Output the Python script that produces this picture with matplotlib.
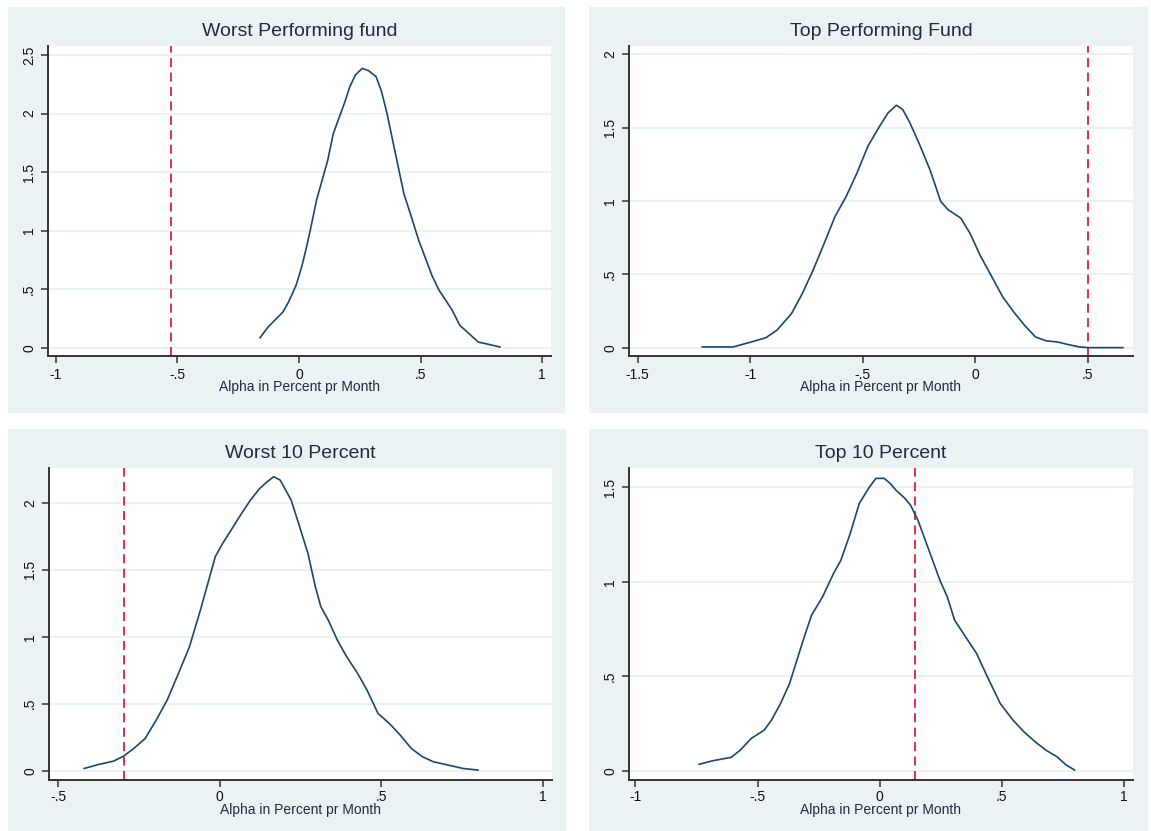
import matplotlib as mpl
mpl.use('Agg')
import matplotlib.pyplot as plt
from matplotlib.patches import Rectangle

plt.rcParams['font.family'] = ['Liberation Sans', 'DejaVu Sans']

# kernel density curves
worst_x = [-0.16, -0.127, -0.066, -0.043, -0.012, 0.011, 0.031, 0.049, 0.072, 0.095, 0.118,
           0.141, 0.164, 0.187, 0.209, 0.232, 0.26, 0.286, 0.317, 0.339, 0.362, 0.385, 0.408,
           0.431, 0.462, 0.492, 0.523, 0.546, 0.576, 0.599, 0.63, 0.661, 0.699, 0.737, 0.768, 0.826]
worst_y = [0.086, 0.177, 0.305, 0.39, 0.533, 0.69, 0.86, 1.03, 1.26, 1.43, 1.60,
           1.83, 1.96, 2.09, 2.23, 2.33, 2.386, 2.366, 2.315, 2.19, 2.0, 1.77, 1.545,
           1.317, 1.117, 0.918, 0.747, 0.619, 0.49, 0.419, 0.319, 0.191, 0.12, 0.048, 0.034, 0.006]

top_x = [-1.213, -1.075, -0.994, -0.93, -0.881, -0.816, -0.768, -0.72, -0.671, -0.623, -0.574,
         -0.526, -0.477, -0.429, -0.388, -0.351, -0.323, -0.291, -0.251, -0.202, -0.154, -0.121,
         -0.065, -0.024, 0.024, 0.073, 0.121, 0.17, 0.218, 0.267, 0.315, 0.364, 0.412, 0.461, 0.5, 0.655]
top_y = [0.005, 0.005, 0.039, 0.068, 0.119, 0.233, 0.37, 0.53, 0.712, 0.895, 1.03,
         1.19, 1.374, 1.5, 1.6, 1.653, 1.625, 1.534, 1.397, 1.215, 0.998, 0.94,
         0.884, 0.78, 0.621, 0.484, 0.347, 0.244, 0.153, 0.073, 0.046, 0.039, 0.021, 0.005, 0.0, 0.0]

worst10_x = [-0.42, -0.375, -0.329, -0.298, -0.266, -0.231, -0.197, -0.163, -0.128, -0.094, -0.06,
             -0.037, -0.014, 0.009, 0.032, 0.061, 0.095, 0.124, 0.147, 0.167, 0.187, 0.221, 0.244,
             0.273, 0.296, 0.313, 0.336, 0.364, 0.393, 0.427, 0.456, 0.49, 0.525, 0.559, 0.593,
             0.628, 0.662, 0.708, 0.754, 0.8]
worst10_y = [0.017, 0.047, 0.072, 0.109, 0.167, 0.241, 0.378, 0.527, 0.726, 0.925, 1.199,
             1.398, 1.597, 1.697, 1.784, 1.896, 2.02, 2.107, 2.157, 2.194, 2.169, 2.02, 1.846,
             1.622, 1.373, 1.224, 1.124, 0.975, 0.851, 0.726, 0.602, 0.428, 0.353, 0.266, 0.167,
             0.104, 0.067, 0.042, 0.017, 0.005]

top10_x = [-0.739, -0.683, -0.608, -0.571, -0.526, -0.473, -0.443, -0.406, -0.369, -0.339, -0.309,
           -0.279, -0.234, -0.189, -0.159, -0.121, -0.084, -0.046, -0.016, 0.018, 0.043, 0.066,
           0.103, 0.126, 0.156, 0.186, 0.216, 0.246, 0.276, 0.306, 0.351, 0.396, 0.44, 0.493,
           0.545, 0.59, 0.635, 0.68, 0.725, 0.763, 0.797]
top10_y = [0.034, 0.053, 0.071, 0.109, 0.171, 0.215, 0.268, 0.356, 0.462, 0.586, 0.709,
           0.824, 0.921, 1.045, 1.115, 1.256, 1.415, 1.495, 1.548, 1.548, 1.521, 1.486,
           1.442, 1.406, 1.327, 1.221, 1.115, 1.009, 0.921, 0.798, 0.709, 0.621, 0.498, 0.356,
           0.268, 0.206, 0.154, 0.109, 0.074, 0.03, 0.004]

# actual alpha of the fund / group (red dashed line)
actual_alpha = [-0.525, 0.5, -0.298, 0.145]

titles = ['Worst Performing fund', 'Top Performing Fund', 'Worst 10 Percent', 'Top 10 Percent']
curves = [(worst_x, worst_y), (top_x, top_y), (worst10_x, worst10_y), (top10_x, top10_y)]

xticks = [[-1, -0.5, 0, 0.5, 1], [-1.5, -1, -0.5, 0, 0.5], [-0.5, 0, 0.5, 1], [-1, -0.5, 0, 0.5, 1]]
xticklabels = [['-1', '-.5', '0', '.5', '1'], ['-1.5', '-1', '-.5', '0', '.5'],
               ['-.5', '0', '.5', '1'], ['-1', '-.5', '0', '.5', '1']]
yticks = [[0, 0.5, 1, 1.5, 2, 2.5], [0, 0.5, 1, 1.5, 2], [0, 0.5, 1, 1.5, 2], [0, 0.5, 1, 1.5]]
yticklabels = [['0', '.5', '1', '1.5', '2', '2.5'], ['0', '.5', '1', '1.5', '2'],
               ['0', '.5', '1', '1.5', '2'], ['0', '.5', '1', '1.5']]
xlims = [(-1.032, 1.036), (-1.538, 0.70), (-0.529, 1.029), (-1.026, 1.036)]
ylims = [(-0.071, 2.577), (-0.057, 2.057), (-0.069, 2.259), (-0.049, 1.603)]

W, H = 1151, 831
# pixel boxes: panel background and plot region (x0, y0, x1, y1)
bg_boxes = [(8, 7, 565, 413), (589, 7, 1148, 413), (8, 429, 566, 831), (589, 429, 1148, 831)]
ax_boxes = [(48, 46, 551, 356), (629, 46, 1133, 356), (49, 468, 552, 780), (629, 468, 1133, 780)]
title_y = [32, 32, 454, 454]
xlabel_base = [391, 391, 814, 814]
xpad = [3.5, 3.5, 2.0, 2.0]

bg_col = '#eaf2f3'
line_col = '#1a476f'
red = '#d8203f'
txt = '#222a44'

fig = plt.figure(figsize=(W / 100, H / 100), dpi=100)

for i in range(4):
    x0, y0, x1, y1 = bg_boxes[i]
    fig.patches.append(Rectangle((x0 / W, 1 - y1 / H), (x1 - x0) / W, (y1 - y0) / H,
                                 transform=fig.transFigure, facecolor=bg_col, edgecolor='none', zorder=-5))
    a0, b0, a1, b1 = ax_boxes[i]
    ax = fig.add_axes([a0 / W, 1 - b1 / H, (a1 - a0) / W, (b1 - b0) / H], zorder=1)
    ax.set_facecolor('white')
    ax.plot(curves[i][0], curves[i][1], color=line_col, lw=1.2, zorder=3)
    ax.axvline(actual_alpha[i], color=red, lw=1.3, dashes=(5, 3), zorder=2)
    ax.set_xlim(*xlims[i])
    ax.set_ylim(*ylims[i])
    ax.set_xticks(xticks[i])
    ax.set_xticklabels(xticklabels[i])
    ax.set_yticks(yticks[i])
    ax.set_yticklabels(yticklabels[i], rotation=90, va='center')
    ax.grid(axis='y', color=bg_col, lw=1.5)
    ax.set_axisbelow(True)
    for s in ['top', 'right']:
        ax.spines[s].set_visible(False)
    for s in ['left', 'bottom']:
        ax.spines[s].set_color('#333333')
        ax.spines[s].set_linewidth(1.4)
    ax.tick_params(length=5, width=1.1, color='#333333', labelsize=10, labelcolor='#111111', pad=3.5)
    ax.tick_params(axis='x', pad=xpad[i])
    cx = (a0 + a1) / 2 / W
    fig.text(cx, 1 - title_y[i] / H, titles[i], ha='center', va='center', fontsize=14, color=txt)
    fig.text(cx, 1 - xlabel_base[i] / H, 'Alpha in Percent pr Month', ha='center', va='baseline',
             fontsize=10, color=txt)

fig.savefig('out.png', dpi=100)
